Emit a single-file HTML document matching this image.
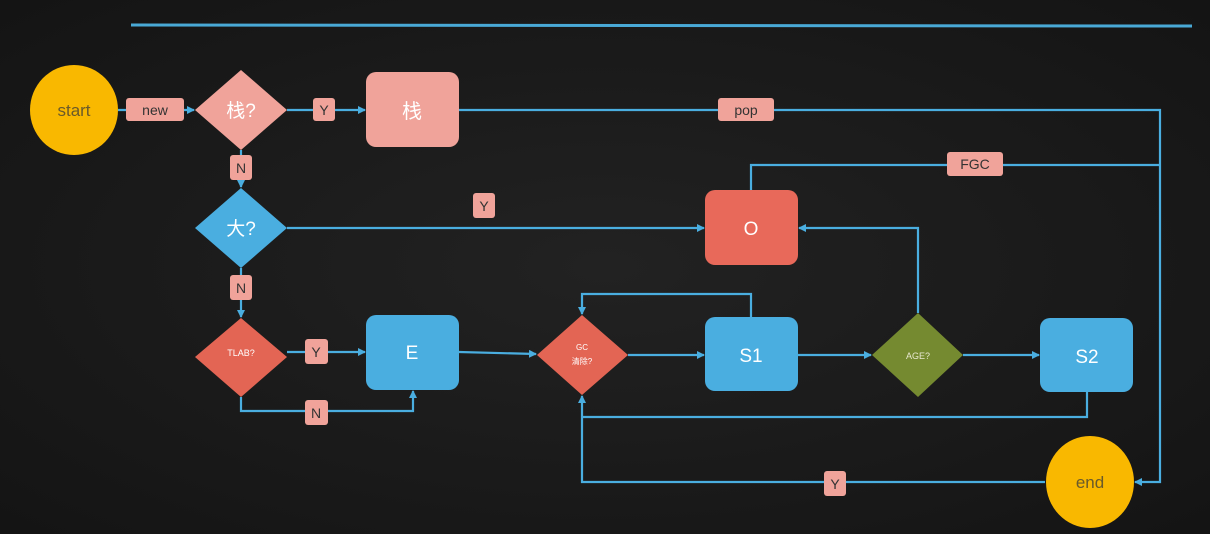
<!DOCTYPE html>
<html><head><meta charset="utf-8"><style>
html,body{margin:0;padding:0;background:#1b1b1b;}
svg{display:block;}
text{font-family:"Liberation Sans","Noto Sans CJK SC",sans-serif;}
</style></head><body>
<svg width="1210" height="534" viewBox="0 0 1210 534" xmlns="http://www.w3.org/2000/svg">
<defs>
<radialGradient id="bg" cx="50%" cy="50%" r="70%"><stop offset="0" stop-color="#222"/><stop offset="1" stop-color="#141414"/></radialGradient>
<marker id="a" markerWidth="8" markerHeight="8" refX="7" refY="4" orient="auto" markerUnits="userSpaceOnUse"><path d="M0,0 L8,4 L0,8 z" fill="#4aaee0"/></marker>
</defs>
<rect width="1210" height="534" fill="url(#bg)"/>
<line x1="131" y1="25" x2="1192" y2="26" stroke="#49a9d6" stroke-width="3"/>
<g fill="none" stroke="#4aaee0" stroke-width="2.2">
<line x1="118" y1="110" x2="194" y2="110" marker-end="url(#a)"/>
<line x1="287" y1="110" x2="365" y2="110" marker-end="url(#a)"/>
<polyline points="459,110 1160,110 1160,482 1135,482" marker-end="url(#a)"/>
<line x1="241" y1="150" x2="241" y2="187" marker-end="url(#a)"/>
<line x1="287" y1="228" x2="704" y2="228" marker-end="url(#a)"/>
<polyline points="751,190 751,165 1160,165"/>
<line x1="241" y1="268" x2="241" y2="317" marker-end="url(#a)"/>
<line x1="287" y1="352" x2="365" y2="352" marker-end="url(#a)"/>
<polyline points="241,397 241,411 413,411 413,391" marker-end="url(#a)"/>
<line x1="459" y1="352" x2="536" y2="354" marker-end="url(#a)"/>
<line x1="628" y1="355" x2="704" y2="355" marker-end="url(#a)"/>
<polyline points="751,317 751,294 582,294 582,314" marker-end="url(#a)"/>
<line x1="798" y1="355" x2="871" y2="355" marker-end="url(#a)"/>
<polyline points="918,313 918,228 799,228" marker-end="url(#a)"/>
<line x1="963" y1="355" x2="1039" y2="355" marker-end="url(#a)"/>
<polyline points="1087,392 1087,417 582,417"/>
<polyline points="1045,482 582,482 582,396" marker-end="url(#a)"/>
</g>
<ellipse cx="74" cy="110" rx="44" ry="45" fill="#f9b800"/>
<text x="74" y="116" font-size="17" fill="#6a5a2a" text-anchor="middle">start</text>
<ellipse cx="1090" cy="482" rx="44" ry="46" fill="#f9b800"/>
<text x="1090" y="488" font-size="17" fill="#6a5a2a" text-anchor="middle">end</text>
<polygon points="241,70 287,110 241,150 195,110" fill="#f0a39a"/>
<text x="241" y="117" font-size="19" fill="#fff" text-anchor="middle">栈?</text>
<rect x="366" y="72" width="93" height="75" rx="10" fill="#f0a39a"/>
<text x="412" y="118" font-size="20" fill="#fff" text-anchor="middle">栈</text>
<polygon points="241,188 287,228 241,268 195,228" fill="#4aaee0"/>
<text x="241" y="235" font-size="19" fill="#fff" text-anchor="middle">大?</text>
<rect x="705" y="190" width="93" height="75" rx="10" fill="#e8695a"/>
<text x="751" y="235" font-size="19" fill="#fff" text-anchor="middle">O</text>
<polygon points="241,318 287,357 241,397 195,357" fill="#e36554"/>
<text x="241" y="356" font-size="9" fill="#fff" text-anchor="middle">TLAB?</text>
<rect x="366" y="315" width="93" height="75" rx="10" fill="#4aaee0"/>
<text x="412" y="359" font-size="19" fill="#fff" text-anchor="middle">E</text>
<polygon points="582,315 628,355 582,395 537,355" fill="#e36554"/>
<text x="582" y="350" font-size="8" fill="#fff" text-anchor="middle">GC</text>
<text x="582" y="364" font-size="8" fill="#fff" text-anchor="middle">清除?</text>
<rect x="705" y="317" width="93" height="74" rx="10" fill="#4aaee0"/>
<text x="751" y="362" font-size="19" fill="#fff" text-anchor="middle">S1</text>
<polygon points="918,313 963,355 918,397 872,355" fill="#758a30"/>
<text x="918" y="359" font-size="9" fill="#e8e8d0" text-anchor="middle">AGE?</text>
<rect x="1040" y="318" width="93" height="74" rx="10" fill="#4aaee0"/>
<text x="1087" y="363" font-size="19" fill="#fff" text-anchor="middle">S2</text>
<g fill="#f0a39a">
<rect x="126" y="98" width="58" height="23" rx="3"/>
<rect x="313" y="98" width="22" height="23" rx="3"/>
<rect x="718" y="98" width="56" height="23" rx="3"/>
<rect x="230" y="155" width="22" height="25" rx="3"/>
<rect x="473" y="193" width="22" height="25" rx="3"/>
<rect x="947" y="152" width="56" height="24" rx="3"/>
<rect x="230" y="275" width="22" height="25" rx="3"/>
<rect x="305" y="339" width="23" height="25" rx="3"/>
<rect x="305" y="400" width="23" height="25" rx="3"/>
<rect x="824" y="471" width="22" height="25" rx="3"/>
</g>
<g font-size="14" fill="#333" text-anchor="middle">
<text x="155" y="115">new</text>
<text x="324" y="115">Y</text>
<text x="746" y="115">pop</text>
<text x="241" y="173">N</text>
<text x="484" y="211">Y</text>
<text x="975" y="169">FGC</text>
<text x="241" y="293">N</text>
<text x="316" y="357">Y</text>
<text x="316" y="418">N</text>
<text x="835" y="489">Y</text>
</g>
</svg>
</body></html>
